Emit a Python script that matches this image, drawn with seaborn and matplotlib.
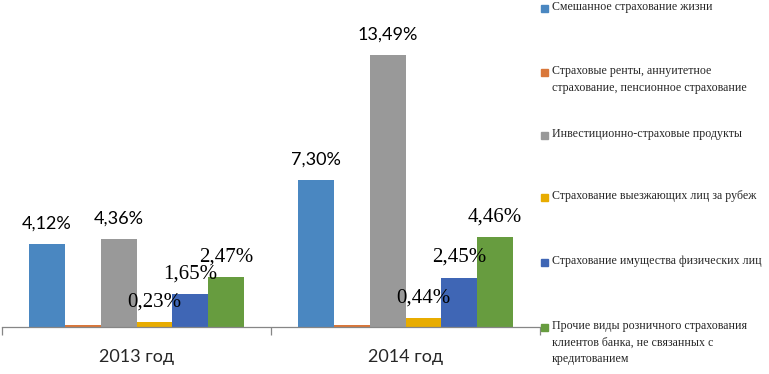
import numpy as np
import pandas as pd
import matplotlib.pyplot as plt
import seaborn as sns
from matplotlib.patches import Rectangle

# categories and series
years = ["2013 год", "2014 год"]
series = [
    "Смешанное страхование жизни",
    "Страховые ренты, аннуитетное страхование, пенсионное страхование",
    "Инвестиционно-страховые продукты",
    "Страхование выезжающих лиц за рубеж",
    "Страхование имущества физических лиц",
    "Прочие виды розничного страхования клиентов банка, не связанных с кредитованием",
]
legend_lines = [
    "Смешанное страхование жизни",
    "Страховые ренты, аннуитетное\nстрахование, пенсионное страхование",
    "Инвестиционно-страховые продукты",
    "Страхование выезжающих лиц за рубеж",
    "Страхование имущества физических лиц",
    "Прочие виды розничного страхования\nклиентов банка, не связанных с\nкредитованием",
]

# values, %
mixed_life = [4.12, 7.30]
annuity = [0.08, 0.08]
investment = [4.36, 13.49]
travel = [0.23, 0.44]
property_ins = [1.65, 2.45]
other_retail = [2.47, 4.46]

show_label = [True, False, True, True, True, True]
serif_label = [False, False, False, True, True, True]
colors = ["#4A87C1", "#D9773A", "#999999", "#E8AC00", "#3F66B5", "#679C3F"]

values = mixed_life + annuity + investment + travel + property_ins + other_retail
df = pd.DataFrame({
    "year": years * len(series),
    "series": np.repeat(series, len(years)),
    "value": values,
})

sns.set_theme(style="white")

W, H = 769, 374
fig = plt.figure(figsize=(W / 100, H / 100), dpi=100)
ax = fig.add_axes([2 / W, 1 - 327 / H, 538 / W, 323 / H])

sns.barplot(
    data=df, x="year", y="value", hue="series", hue_order=series,
    palette=colors, width=0.8, saturation=1, linewidth=0, ax=ax, legend=False,
)
ax.set_xlim(-0.5, 1.5)
ax.set_ylim(0, 16)

# value labels
for i, cont in enumerate(ax.containers):
    if not show_label[i]:
        continue
    for bar in cont:
        v = bar.get_height()
        txt = f"{v:.2f}".replace(".", ",") + "%"
        if serif_label[i]:
            kw = dict(family="Liberation Serif", fontsize=15)
        else:
            kw = dict(family="Lato", fontsize=13)
        ax.annotate(txt, (bar.get_x() + bar.get_width() / 2, v),
                    xytext=(0, 14.5), textcoords="offset points",
                    ha="center", va="center", color="black", **kw)

# axes styling
sns.despine(ax=ax, left=True)
ax.spines["bottom"].set_color("#868686")
ax.spines["bottom"].set_linewidth(0.9)
ax.set_yticks([])
ax.set_xlabel("")
ax.set_ylabel("")
ax.set_xticks([0, 1])
ax.set_xticklabels(years, fontsize=13, family="Lato")
ax.tick_params(axis="x", which="major", length=0, pad=16)
ax.set_xticks([-0.5, 0.5, 1.5], minor=True)
ax.tick_params(axis="x", which="minor", length=6, width=0.9,
               color="#868686", bottom=True)

# legend on the right
marker_y = [8, 72, 135, 197, 262, 327]
for i, lab in enumerate(legend_lines):
    yc = 1 - marker_y[i] / H
    fig.add_artist(Rectangle((541 / W, yc - 3.5 / H), 7 / W, 7 / H,
                             transform=fig.transFigure, color=colors[i]))
    fig.text(552 / W, yc + 7 / H, lab, ha="left", va="top",
             family="Liberation Serif", fontsize=8.6, linespacing=1.5)

fig.savefig("out.png", dpi=100)
